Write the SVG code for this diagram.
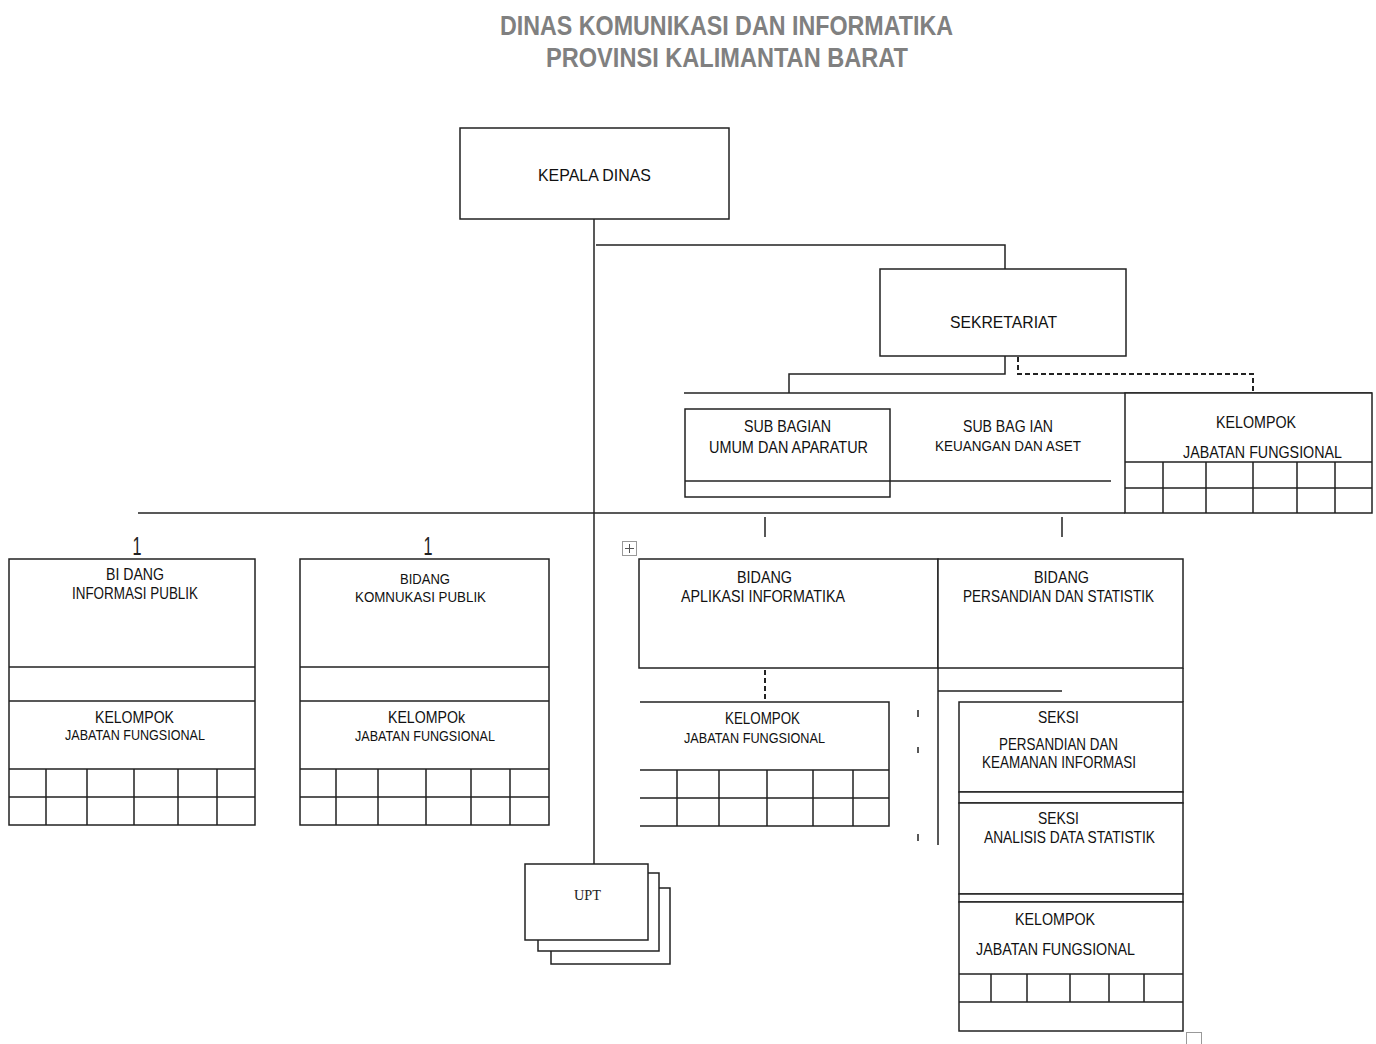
<svg xmlns="http://www.w3.org/2000/svg" width="1376" height="1044" viewBox="0 0 1376 1044">
<style>
.title{font-family:"Liberation Sans",Arial,sans-serif;font-weight:bold;font-size:27px;fill:#808080;text-anchor:middle}
.t{font-family:"Liberation Sans",Arial,sans-serif;font-size:17px;fill:#111;text-anchor:middle}
.s{font-family:"Liberation Sans",Arial,sans-serif;font-size:15px;fill:#111;text-anchor:middle}
.xs{font-family:"Liberation Sans",Arial,sans-serif;font-size:14px;fill:#111;text-anchor:middle}
.one{font-family:"Liberation Sans",Arial,sans-serif;font-size:25px;fill:#222;text-anchor:middle}
.box{fill:#fff;stroke:#222;stroke-width:1.5}
.ln{fill:none;stroke:#222;stroke-width:1.5}
.dash{fill:none;stroke:#222;stroke-width:2;stroke-dasharray:5 3}
</style>
<rect width="1376" height="1044" fill="#fff"/>
<g id="title">
<text class="title" x="726.5" y="35" textLength="453" lengthAdjust="spacingAndGlyphs">DINAS KOMUNIKASI DAN INFORMATIKA</text>
<text class="title" x="727" y="67" textLength="362" lengthAdjust="spacingAndGlyphs">PROVINSI KALIMANTAN BARAT</text>
</g>
<g id="connectors">
<path class="ln" d="M594 219 V864"/>
<path class="ln" d="M596 245 H1005 V269"/>
<path class="ln" d="M1005 356 V374 H789 V393"/>
<path class="dash" d="M1018 357 V374 H1253 V393"/>
<path class="ln" d="M684 393 H1372"/>
<path class="ln" d="M138 513 H1125"/>
<path class="ln" d="M765 517 V537 M1062 517 V537"/>
<path class="dash" d="M765 670 V702"/>
<path class="ln" d="M938 668 V845 M938 691 H1062"/>
<path class="ln" d="M918 710 V717 M918 747 V753 M918 834 V841"/>
</g>
<g id="kepala-dinas">
<rect class="box" x="460" y="128" width="269" height="91"/>
<text class="t" x="594.5" y="181" textLength="113" lengthAdjust="spacingAndGlyphs">KEPALA DINAS</text>
</g>
<g id="sekretariat">
<rect class="box" x="880" y="269" width="246" height="87" stroke-width="2"/>
<text class="t" x="1003.5" y="328" textLength="107" lengthAdjust="spacingAndGlyphs">SEKRETARIAT</text>
</g>
<g id="subbag-umum">
<rect class="box" x="685" y="409" width="205" height="88"/>
<path class="ln" d="M685 481 H1111"/>
<text class="t" x="787.5" y="432" textLength="87" lengthAdjust="spacingAndGlyphs">SUB BAGIAN</text>
<text class="t" x="788.5" y="453" textLength="159" lengthAdjust="spacingAndGlyphs">UMUM DAN APARATUR</text>
</g>
<g id="subbag-keuangan">
<text class="t" x="1008" y="432" textLength="90" lengthAdjust="spacingAndGlyphs">SUB BAG IAN</text>
<text class="s" x="1008" y="451" textLength="146" lengthAdjust="spacingAndGlyphs">KEUANGAN DAN ASET</text>
</g>
<g id="kelompok-sekretariat">
<rect class="box" x="1125" y="393" width="247" height="120" fill="none"/>
<path class="ln" d="M1125 462 H1372 M1125 488 H1372 M1163 462 V513 M1206 462 V513 M1253 462 V513 M1297 462 V513 M1335 462 V513"/>
<text class="t" x="1256" y="428" textLength="80" lengthAdjust="spacingAndGlyphs">KELOMPOK</text>
<text class="t" x="1262.5" y="458" textLength="159" lengthAdjust="spacingAndGlyphs">JABATAN FUNGSIONAL</text>
</g>
<g id="bidang-informasi-publik">
<text class="one" x="137" y="555" textLength="9" lengthAdjust="spacingAndGlyphs">1</text>
<rect class="box" x="9" y="559" width="246" height="266"/>
<path class="ln" d="M9 667 H255 M9 701 H255 M9 769 H255 M9 797 H255 M46 769 V825 M87 769 V825 M134 769 V825 M178 769 V825 M217 769 V825"/>
<text class="t" x="135" y="580" textLength="58" lengthAdjust="spacingAndGlyphs">BI DANG</text>
<text class="t" x="135" y="599" textLength="126" lengthAdjust="spacingAndGlyphs">INFORMASI PUBLIK</text>
<text class="t" x="134.5" y="723" textLength="79" lengthAdjust="spacingAndGlyphs">KELOMPOK</text>
<text class="xs" x="135" y="740" textLength="140" lengthAdjust="spacingAndGlyphs">JABATAN FUNGSIONAL</text>
</g>
<g id="bidang-komunikasi-publik">
<text class="one" x="428" y="555" textLength="9" lengthAdjust="spacingAndGlyphs">1</text>
<rect class="box" x="300" y="559" width="249" height="266"/>
<path class="ln" d="M300 667 H549 M300 701 H549 M300 769 H549 M300 797 H549 M336 769 V825 M378 769 V825 M426 769 V825 M471 769 V825 M510 769 V825"/>
<text class="s" x="425" y="584" textLength="50" lengthAdjust="spacingAndGlyphs">BIDANG</text>
<text class="s" x="420.5" y="602" textLength="131" lengthAdjust="spacingAndGlyphs">KOMNUKASI PUBLIK</text>
<text class="t" x="426.5" y="723" textLength="77" lengthAdjust="spacingAndGlyphs">KELOMPOk</text>
<text class="xs" x="425" y="741" textLength="140" lengthAdjust="spacingAndGlyphs">JABATAN FUNGSIONAL</text>
</g>
<g id="move-handle">
<rect x="622.5" y="541.5" width="14" height="14" fill="#fff" stroke="#999" stroke-width="1"/>
<path d="M629.5 544 V553 M625 548.5 H634" stroke="#555" stroke-width="1"/>
</g>
<g id="bidang-aplikasi-informatika">
<rect class="box" x="639" y="559" width="299" height="109"/>
<text class="t" x="764.5" y="583" textLength="55" lengthAdjust="spacingAndGlyphs">BIDANG</text>
<text class="t" x="763" y="602" textLength="164" lengthAdjust="spacingAndGlyphs">APLIKASI INFORMATIKA</text>
</g>
<g id="kelompok-aplikasi">
<path class="ln" d="M640 702 H889 V826 H640 M640 770 H889 M640 798 H889 M677 770 V826 M719 770 V826 M767 770 V826 M813 770 V826 M853 770 V826"/>
<text class="t" x="762.5" y="724" textLength="75" lengthAdjust="spacingAndGlyphs">KELOMPOK</text>
<text class="xs" x="754.5" y="743" textLength="141" lengthAdjust="spacingAndGlyphs">JABATAN FUNGSIONAL</text>
</g>
<g id="bidang-persandian-statistik">
<rect class="box" x="938" y="559" width="245" height="109"/>
<path class="ln" d="M1183 668 V702"/>
<text class="t" x="1061.5" y="583" textLength="55" lengthAdjust="spacingAndGlyphs">BIDANG</text>
<text class="t" x="1058.5" y="602" textLength="191" lengthAdjust="spacingAndGlyphs">PERSANDIAN DAN STATISTIK</text>
</g>
<g id="seksi-persandian">
<rect class="box" x="959" y="702" width="224" height="90"/>
<text class="t" x="1058.5" y="723" textLength="41" lengthAdjust="spacingAndGlyphs">SEKSI</text>
<text class="t" x="1058.5" y="750" textLength="119" lengthAdjust="spacingAndGlyphs">PERSANDIAN DAN</text>
<text class="t" x="1059" y="768" textLength="154" lengthAdjust="spacingAndGlyphs">KEAMANAN INFORMASI</text>
</g>
<g id="seksi-analisis">
<rect class="box" x="959" y="792" width="224" height="11"/>
<rect class="box" x="959" y="803" width="224" height="91"/>
<text class="t" x="1058.5" y="824" textLength="41" lengthAdjust="spacingAndGlyphs">SEKSI</text>
<text class="t" x="1069.5" y="843" textLength="171" lengthAdjust="spacingAndGlyphs">ANALISIS DATA STATISTIK</text>
</g>
<g id="kelompok-persandian">
<rect class="box" x="959" y="894" width="224" height="8"/>
<rect class="box" x="959" y="902" width="224" height="129"/>
<path class="ln" d="M959 974 H1183 M959 1002 H1183 M991 974 V1002 M1027 974 V1002 M1070 974 V1002 M1109 974 V1002 M1144 974 V1002"/>
<text class="t" x="1055" y="925" textLength="80" lengthAdjust="spacingAndGlyphs">KELOMPOK</text>
<text class="t" x="1055.5" y="955" textLength="159" lengthAdjust="spacingAndGlyphs">JABATAN FUNGSIONAL</text>
<rect x="1186.5" y="1032.5" width="15" height="13" fill="none" stroke="#999" stroke-width="1"/>
</g>
<g id="upt">
<rect class="box" x="551" y="888" width="119" height="76" stroke-width="2"/>
<rect class="box" x="538" y="873" width="121" height="78" stroke-width="2"/>
<rect class="box" x="525" y="864" width="123" height="76"/>
<text x="587.5" y="900" font-family="'Liberation Serif','Times New Roman',serif" font-size="15" text-anchor="middle" fill="#222" textLength="27" lengthAdjust="spacingAndGlyphs">UPT</text>
</g>
</svg>
